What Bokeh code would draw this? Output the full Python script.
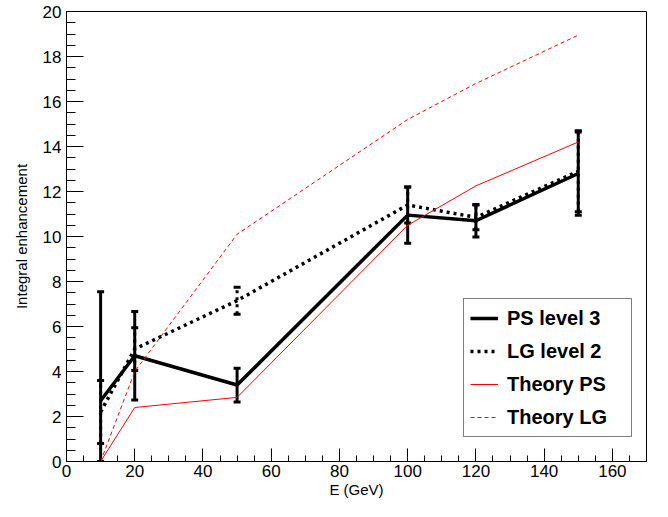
from bokeh.plotting import figure
from bokeh.models import (ColumnDataSource, Whisker, TeeHead, Legend, LegendItem,
                          SingleIntervalTicker, Range1d)
from bokeh.embed import file_html
from bokeh.resources import INLINE
import numpy as np

# ---- data ----
energy = [10, 20, 50, 100, 120, 150]
ps_level3 = [2.7, 4.7, 3.4, 10.95, 10.7, 12.8]
ps_level3_err = [4.85, 1.97, 0.75, 1.25, 0.72, 1.85]
lg_level2 = [2.2, 5.0, 7.15, 11.4, 10.85, 12.9]
lg_level2_err = [1.4, 0.95, 0.6, 0.8, 0.55, 1.8]
theory_ps = [0.0, 2.4, 2.85, 10.5, 12.25, 14.2]
theory_lg = [0.0, 4.0, 10.1, 15.2, 16.8, 18.95]

x_ticks_interval = 20
y_ticks_interval = 2
y_min, y_max = 0, 20
x_min, x_max = 0, 170

FONT = "Liberation Sans"

p = figure(width=652, height=501, output_backend="svg", toolbar_location=None,
           x_range=Range1d(x_min, x_max), y_range=Range1d(y_min, y_max),
           min_border_left=66, min_border_right=6, min_border_top=11, min_border_bottom=40)
p.xgrid.visible = False
p.ygrid.visible = False
p.outline_line_color = "black"
p.outline_line_width = 1
p.background_fill_color = "white"
p.border_fill_color = "white"

p.xaxis.ticker = SingleIntervalTicker(interval=x_ticks_interval, num_minor_ticks=4)
p.yaxis.ticker = SingleIntervalTicker(interval=y_ticks_interval, num_minor_ticks=4)
for ax in (p.xaxis, p.yaxis):
    ax.axis_line_color = "black"
    ax.major_tick_line_color = "black"
    ax.minor_tick_line_color = "black"
    ax.major_tick_out = 0
    ax.minor_tick_out = 0
    ax.major_label_text_font = FONT
    ax.major_label_text_font_size = "17px"
    ax.major_label_text_color = "black"
    ax.axis_label_text_font = FONT
    ax.axis_label_text_font_size = "15px"
    ax.axis_label_text_font_style = "normal"
    ax.axis_label_text_color = "black"
p.xaxis.major_tick_in = 13
p.xaxis.minor_tick_in = 6
p.yaxis.major_tick_in = 17
p.yaxis.minor_tick_in = 9
p.xaxis.major_label_standoff = 3
p.xaxis.axis_label_standoff = 1
p.yaxis.major_label_standoff = 5
p.yaxis.axis_label_standoff = 10
p.xaxis.axis_label = "E (GeV)"
p.yaxis.axis_label = "Integral enhancement"

e = np.array(energy)
ps = np.array(ps_level3); pse = np.array(ps_level3_err)
lg = np.array(lg_level2); lge = np.array(lg_level2_err)

ps_src = ColumnDataSource(dict(x=e, y=ps, upper=ps + pse, lower=np.clip(ps - pse, y_min, None)))
lg_src = ColumnDataSource(dict(x=e, y=lg, upper=lg + lge, lower=np.clip(lg - lge, y_min, None)))

# LG level 2 (dotted)
lg_line = p.line("x", "y", source=lg_src, line_color="black", line_width=3.5, line_dash="3 4")
p.add_layout(Whisker(source=lg_src, base="x", upper="upper", lower="lower",
                     line_color="black", line_width=3, line_dash="3 4",
                     upper_head=TeeHead(size=7, line_width=3, line_color="black"),
                     lower_head=TeeHead(size=7, line_width=3, line_color="black")))

# PS level 3 (solid)
ps_line = p.line("x", "y", source=ps_src, line_color="black", line_width=3.5)
p.add_layout(Whisker(source=ps_src, base="x", upper="upper", lower="lower",
                     line_color="black", line_width=3,
                     upper_head=TeeHead(size=7, line_width=3, line_color="black"),
                     lower_head=TeeHead(size=7, line_width=3, line_color="black")))

# theory
tps_line = p.line(energy, theory_ps, line_color="red", line_width=1)
tlg_line = p.line(energy, theory_lg, line_color="red", line_width=1, line_dash="4 3")

legend = Legend(items=[
    LegendItem(label="PS level 3", renderers=[ps_line]),
    LegendItem(label="LG level 2", renderers=[lg_line]),
    LegendItem(label="Theory PS", renderers=[tps_line]),
    LegendItem(label="Theory LG", renderers=[tlg_line]),
], location=(397, 24))
legend.label_text_font = FONT
legend.label_text_font_size = "20px"
legend.label_text_font_style = "bold"
legend.label_text_color = "black"
legend.glyph_width = 28
legend.glyph_height = 26
legend.label_height = 26
legend.label_width = 118
legend.label_standoff = 9
legend.spacing = 7
legend.padding = 6
legend.margin = 0
legend.border_line_color = "black"
legend.border_line_width = 1
legend.background_fill_color = "white"
legend.background_fill_alpha = 1
p.add_layout(legend, "center")

open("out.html", "w").write(file_html(p, INLINE))
